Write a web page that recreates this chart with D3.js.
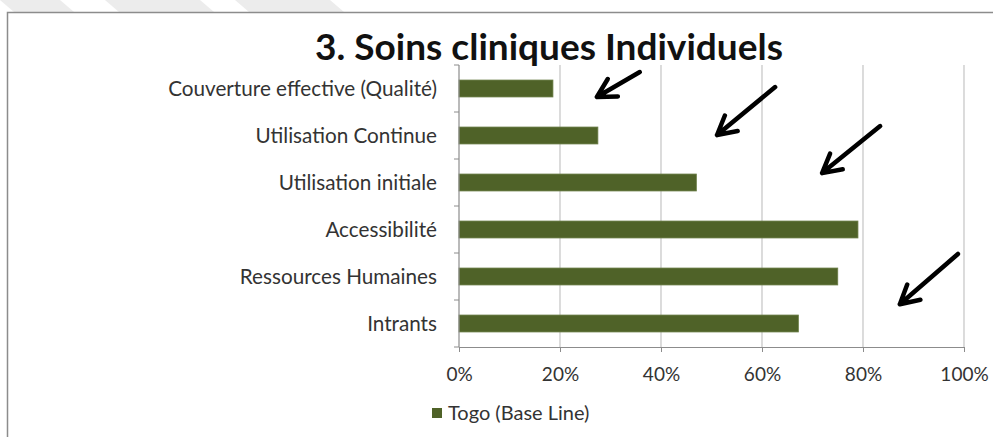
<!DOCTYPE html>
<html>
<head>
<meta charset="utf-8">
<script src="https://cdnjs.cloudflare.com/ajax/libs/d3/7.8.5/d3.min.js"></script>
<style>
  body { margin: 0; background: #fff; }
  svg { display: block; font-family: Lato, 'Open Sans', sans-serif; }
</style>
</head>
<body>
<script>
// data
const categories = ['Couverture effective (Qualité)', 'Utilisation Continue', 'Utilisation initiale',
    'Accessibilité', 'Ressources Humaines', 'Intrants']
const values = [0.186, 0.275, 0.47, 0.79, 0.75, 0.672]
const xTicks = [0, 0.2, 0.4, 0.6, 0.8, 1]
const seriesName = 'Togo (Base Line)'
const title = '3. Soins cliniques Individuels'
// hand drawn arrows: [x tail, row tail, x head, row head]
const arrows = [
    [0.358, 0.15, 0.273, 0.68],
    [0.626, 0.47, 0.511, 1.49],
    [0.834, 1.30, 0.719, 2.30],
    [0.988, 4.02, 0.873, 5.09]
]

const W = 993, H = 437
const margin = { top: 65, right: 29, bottom: 90, left: 459 }
const width = W - margin.left - margin.right
const height = H - margin.top - margin.bottom

const svg = d3.select('body').append('svg')
    .attr('width', W)
    .attr('height', H)

// faint diagonal stripes at the top left (scan artefact)
const stripes = [[0, 60], [105, 200], [235, 330]]
svg.selectAll('path.stripe')
    .data(stripes)
    .enter().append('path')
    .attr('class', 'stripe')
    .attr('d', d => `M${d[0]},0 L${d[1]},0 L${d[1] + 14},12 L${d[0] + 14},12 Z`)
    .attr('fill', '#ececec')

// chart frame
svg.append('rect')
    .attr('x', 7.5).attr('y', 12.5)
    .attr('width', W + 10).attr('height', H + 10)
    .attr('fill', 'none')
    .attr('stroke', '#8c8c8c')
    .attr('stroke-width', 1.5)

svg.append('text')
    .attr('x', 549).attr('y', 60)
    .attr('text-anchor', 'middle')
    .attr('font-size', 37)
    .attr('font-weight', 'bold')
    .attr('fill', '#111')
    .text(title)

const g = svg.append('g')
    .attr('transform', `translate(${margin.left},${margin.top})`)

const xScale = d3.scaleLinear()
    .domain([0, 1])
    .range([0, width])

const yScale = d3.scaleBand()
    .domain(categories)
    .range([0, height])
    .paddingInner(0.64)
    .paddingOuter(0.32)

// row units, used to place the arrows
const rowScale = d3.scaleLinear()
    .domain([0, categories.length])
    .range([0, height])

// gridlines
g.selectAll('line.grid')
    .data(xTicks.slice(1))
    .enter().append('line')
    .attr('class', 'grid')
    .attr('x1', d => xScale(d)).attr('x2', d => xScale(d))
    .attr('y1', 0).attr('y2', height)
    .attr('stroke', '#c4c4c4')
    .attr('stroke-width', 1.2)

g.selectAll('rect.bar')
    .data(values)
    .enter().append('rect')
    .attr('class', 'bar')
    .attr('x', 0)
    .attr('y', (d, i) => yScale(categories[i]))
    .attr('width', d => xScale(d))
    .attr('height', yScale.bandwidth())
    .attr('fill', '#4f6228')
    .attr('stroke', '#6a7d45')
    .attr('stroke-width', 0.8)

// x axis
const xAxis = d3.axisBottom(xScale)
    .tickValues(xTicks)
    .tickFormat(d3.format('.0%'))
    .tickSizeInner(5)
    .tickSizeOuter(0)
    .tickPadding(16)

const xg = g.append('g')
    .attr('transform', `translate(0,${height})`)
    .call(xAxis)
xg.select('.domain').attr('stroke', '#8c8c8c').attr('stroke-width', 1.2)
xg.selectAll('.tick line').attr('stroke', '#8c8c8c')
xg.selectAll('.tick text')
    .attr('font-size', 19)
    .attr('fill', '#333')
    .attr('font-family', 'Lato, sans-serif')

// y axis: ticks between categories
const yg = g.append('g')
g.append('line')
    .attr('x1', 0).attr('x2', 0)
    .attr('y1', 0).attr('y2', height)
    .attr('stroke', '#8c8c8c').attr('stroke-width', 1.2)
yg.selectAll('line')
    .data(d3.range(categories.length + 1))
    .enter().append('line')
    .attr('x1', -5).attr('x2', 0)
    .attr('y1', d => rowScale(d)).attr('y2', d => rowScale(d))
    .attr('stroke', '#8c8c8c')
yg.selectAll('text')
    .data(categories)
    .enter().append('text')
    .attr('x', -22)
    .attr('y', d => yScale(d) + yScale.bandwidth() / 2)
    .attr('dy', '0.35em')
    .attr('text-anchor', 'end')
    .attr('font-size', 20.7)
    .attr('fill', '#333')
    .text(d => d)

// arrows
const arrowG = g.append('g')
    .attr('fill', 'none')
    .attr('stroke', '#000')
    .attr('stroke-width', 4.5)
    .attr('stroke-linecap', 'round')
    .attr('stroke-linejoin', 'round')

arrows.forEach(a => {
    const x0 = xScale(a[0]), y0 = rowScale(a[1])
    const x1 = xScale(a[2]), y1 = rowScale(a[3])
    const ang = Math.atan2(y1 - y0, x1 - x0)
    const len = 21, spread = 0.5
    const hx1 = x1 - len * Math.cos(ang - spread), hy1 = y1 - len * Math.sin(ang - spread)
    const hx2 = x1 - len * Math.cos(ang + spread), hy2 = y1 - len * Math.sin(ang + spread)
    arrowG.append('path')
        .attr('d', `M${x0},${y0} L${x1},${y1} M${hx1},${hy1} L${x1},${y1} L${hx2},${hy2}`)
})

// legend
const legend = svg.append('g')
    .attr('transform', `translate(432,408)`)
legend.append('rect')
    .attr('width', 10).attr('height', 10)
    .attr('fill', '#4f6228')
legend.append('text')
    .attr('x', 16).attr('y', 12)
    .attr('font-size', 20)
    .attr('fill', '#333')
    .text(seriesName)
</script>
</body>
</html>
